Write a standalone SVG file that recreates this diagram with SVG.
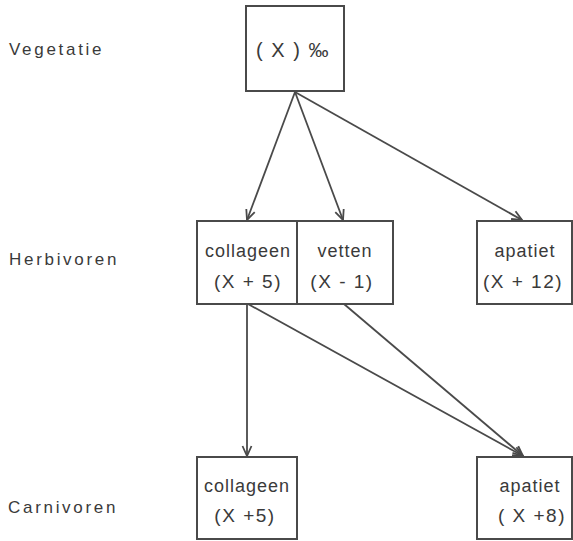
<svg xmlns="http://www.w3.org/2000/svg" width="573" height="541" viewBox="0 0 573 541">
  <style>
    .box { fill: #fff; stroke: #4a4a4a; stroke-width: 2; }
    .lbl { font-family: "Liberation Sans", Arial, sans-serif; font-size: 17px; fill: #3a3a3a; letter-spacing: 2.7px; }
    .t { font-family: "Liberation Sans", Arial, sans-serif; font-size: 18px; fill: #3a3a3a; letter-spacing: 1px; text-anchor: middle; }
    .f { font-family: "Liberation Sans", Arial, sans-serif; font-size: 19px; fill: #3a3a3a; letter-spacing: 1.5px; text-anchor: middle; }
    .edge { fill: none; stroke: #4a4a4a; stroke-width: 1.8; marker-end: url(#arr); }
  </style>
  <defs>
    <marker id="arr" markerUnits="userSpaceOnUse" markerWidth="14" markerHeight="14" viewBox="-12 -7 14 14" refX="0" refY="0" orient="auto">
      <path d="M-10,-4.5 L0,0 L-10,4.5" fill="none" stroke="#4a4a4a" stroke-width="1.8"/>
    </marker>
  </defs>

  <g id="labels">
    <text class="lbl" x="9" y="55">Vegetatie</text>
    <text class="lbl" x="9" y="265">Herbivoren</text>
    <text class="lbl" x="8" y="513">Carnivoren</text>
  </g>

  <g id="connectors">
    <line class="edge" x1="295" y1="92" x2="247" y2="220"/>
    <line class="edge" x1="295" y1="92" x2="343" y2="220"/>
    <line class="edge" x1="295" y1="92" x2="522" y2="220"/>
    <line class="edge" x1="247" y1="304" x2="247" y2="456"/>
    <line class="edge" x1="248" y1="304" x2="523" y2="456"/>
    <line class="edge" x1="344" y1="304" x2="523" y2="456"/>
  </g>

  <g id="vegetatie">
    <rect class="box" x="246" y="6" width="98" height="85"/>
    <text class="f" x="293" y="57" style="font-size:20px">( X ) ‰</text>
  </g>

  <g id="herb-collageen">
    <rect class="box" x="197" y="221" width="100" height="83"/>
    <text class="t" x="248" y="257">collageen</text>
    <text class="f" x="248" y="288">(X + 5)</text>
  </g>

  <g id="herb-vetten">
    <rect class="box" x="297" y="221" width="96" height="83"/>
    <text class="t" x="345" y="257">vetten</text>
    <text class="f" x="342" y="288">(X - 1)</text>
  </g>

  <g id="herb-apatiet">
    <rect class="box" x="477" y="221" width="95" height="83"/>
    <text class="t" x="525" y="257">apatiet</text>
    <text class="f" x="523" y="288">(X + 12)</text>
  </g>

  <g id="carn-collageen">
    <rect class="box" x="197" y="457" width="100" height="82"/>
    <text class="t" x="247" y="492">collageen</text>
    <text class="f" x="245" y="522">(X +5)</text>
  </g>

  <g id="carn-apatiet">
    <rect class="box" x="477" y="457" width="95" height="82"/>
    <text class="t" x="530" y="492">apatiet</text>
    <text class="f" x="532" y="522">( X +8)</text>
  </g>
</svg>
